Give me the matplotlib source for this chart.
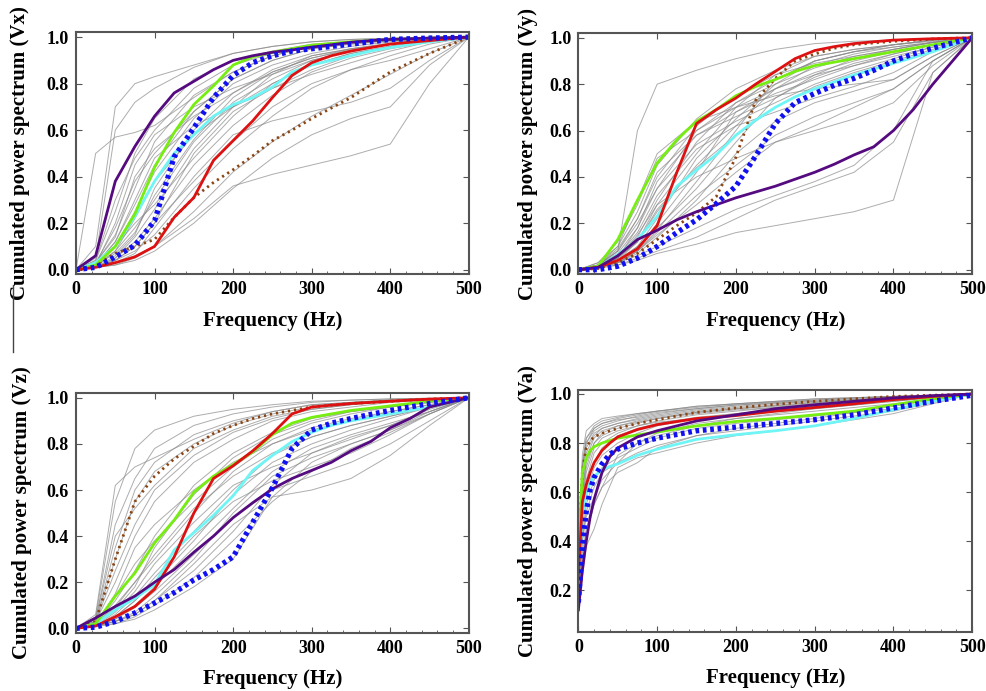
import numpy as np
import matplotlib
matplotlib.use('Agg')
import matplotlib.pyplot as plt
from matplotlib.lines import Line2D
from matplotlib.ticker import MultipleLocator, FormatStrFormatter

plt.rcParams['font.family'] = 'Liberation Serif'
plt.rcParams['font.weight'] = 'bold'

#frequency grids (Hz)
freq = [0, 25, 50, 75, 100, 125, 150, 175, 200, 225, 250, 275, 300, 325, 350, 375, 400, 425, 450, 475, 500]
freq_gray = [0, 25, 50, 75, 100, 150, 200, 250, 300, 350, 400, 450, 500]
freq_va = [0, 5, 10, 15, 20, 30, 40, 50, 75, 100, 150, 200, 250, 300, 350, 400, 450, 500]
freq_va_gray = [0, 5, 10, 20, 30, 50, 75, 100, 150, 200, 300, 400, 500]

#---- Vx ----
vx_purple = [0, 0.06, 0.38, 0.53, 0.66, 0.76, 0.81, 0.86, 0.90, 0.92, 0.935, 0.945, 0.957, 0.967, 0.978, 0.985, 0.99, 0.993, 0.996, 0.998, 1.0]
vx_green = [0, 0.02, 0.10, 0.24, 0.44, 0.59, 0.71, 0.79, 0.88, 0.915, 0.935, 0.95, 0.965, 0.973, 0.98, 0.985, 0.99, 0.993, 0.996, 0.998, 1.0]
vx_cyan = [0, 0.03, 0.10, 0.23, 0.38, 0.50, 0.58, 0.66, 0.71, 0.74, 0.785, 0.85, 0.88, 0.90, 0.92, 0.94, 0.955, 0.968, 0.98, 0.99, 1.0]
vx_red = [0, 0.01, 0.03, 0.055, 0.10, 0.225, 0.31, 0.47, 0.555, 0.64, 0.74, 0.835, 0.89, 0.92, 0.94, 0.955, 0.97, 0.978, 0.985, 0.993, 1.0]
vx_blue = [0, 0.01, 0.055, 0.105, 0.21, 0.485, 0.61, 0.74, 0.835, 0.89, 0.92, 0.94, 0.95, 0.96, 0.97, 0.98, 0.99, 0.993, 0.996, 0.998, 1.0]
vx_brown = [0, 0.02, 0.07, 0.10, 0.13, 0.225, 0.31, 0.375, 0.43, 0.49, 0.555, 0.60, 0.65, 0.695, 0.74, 0.795, 0.85, 0.89, 0.93, 0.965, 1.0]
vx_gray = [
    [0, 0.10, 0.70, 0.80, 0.83, 0.88, 0.93, 0.96, 0.98, 0.99, 0.995, 0.998, 1],
    [0, 0.50, 0.57, 0.59, 0.62, 0.74, 0.85, 0.92, 0.96, 0.98, 0.99, 0.995, 1],
    [0, 0.05, 0.60, 0.72, 0.78, 0.87, 0.93, 0.96, 0.98, 0.99, 0.995, 0.998, 1],
    [0, 0.04, 0.25, 0.50, 0.65, 0.82, 0.90, 0.94, 0.97, 0.98, 0.99, 0.995, 1],
    [0, 0.03, 0.15, 0.35, 0.55, 0.75, 0.85, 0.92, 0.96, 0.975, 0.985, 0.993, 1],
    [0, 0.02, 0.10, 0.25, 0.42, 0.65, 0.80, 0.88, 0.93, 0.96, 0.98, 0.99, 1],
    [0, 0.02, 0.08, 0.18, 0.30, 0.55, 0.72, 0.82, 0.90, 0.94, 0.97, 0.985, 1],
    [0, 0.01, 0.05, 0.12, 0.22, 0.45, 0.62, 0.75, 0.85, 0.91, 0.95, 0.98, 1],
    [0, 0.01, 0.04, 0.08, 0.15, 0.35, 0.52, 0.66, 0.78, 0.86, 0.92, 0.97, 1],
    [0, 0.01, 0.03, 0.06, 0.10, 0.25, 0.42, 0.55, 0.66, 0.75, 0.84, 0.93, 1],
    [0, 0.01, 0.02, 0.05, 0.10, 0.22, 0.36, 0.41, 0.45, 0.49, 0.54, 0.80, 1],
    [0, 0.01, 0.03, 0.07, 0.18, 0.40, 0.58, 0.64, 0.68, 0.72, 0.78, 0.90, 1],
    [0, 0.02, 0.12, 0.30, 0.48, 0.62, 0.70, 0.80, 0.88, 0.93, 0.96, 0.985, 1],
    [0, 0.01, 0.06, 0.15, 0.35, 0.60, 0.76, 0.86, 0.92, 0.95, 0.97, 0.99, 1],
    [0, 0.02, 0.20, 0.45, 0.58, 0.70, 0.78, 0.84, 0.90, 0.94, 0.97, 0.99, 1],
    [0, 0.01, 0.02, 0.04, 0.08, 0.20, 0.35, 0.48, 0.58, 0.65, 0.70, 0.88, 1],
    [0, 0.03, 0.18, 0.38, 0.50, 0.68, 0.82, 0.90, 0.95, 0.97, 0.985, 0.995, 1],
    [0, 0.01, 0.04, 0.10, 0.20, 0.50, 0.68, 0.78, 0.86, 0.92, 0.96, 0.985, 1],
    [0, 0.02, 0.12, 0.28, 0.45, 0.68, 0.82, 0.90, 0.95, 0.97, 0.985, 0.995, 1],
    [0, 0.03, 0.14, 0.40, 0.52, 0.66, 0.76, 0.85, 0.91, 0.95, 0.97, 0.99, 1],
    [0, 0.01, 0.08, 0.22, 0.38, 0.58, 0.70, 0.78, 0.84, 0.89, 0.94, 0.98, 1],
    [0, 0.02, 0.10, 0.20, 0.28, 0.48, 0.66, 0.80, 0.88, 0.93, 0.96, 0.985, 1],
    [0, 0.01, 0.05, 0.14, 0.26, 0.52, 0.70, 0.84, 0.92, 0.95, 0.975, 0.99, 1],
    [0, 0.04, 0.30, 0.48, 0.60, 0.78, 0.88, 0.93, 0.96, 0.98, 0.99, 0.995, 1],
    [0, 0.01, 0.04, 0.10, 0.20, 0.38, 0.55, 0.70, 0.80, 0.86, 0.90, 0.95, 1],
    [0, 0.02, 0.07, 0.16, 0.32, 0.56, 0.74, 0.85, 0.91, 0.945, 0.97, 0.99, 1],
]

#---- Vy ----
vy_purple = [0, 0.01, 0.06, 0.13, 0.17, 0.215, 0.25, 0.28, 0.31, 0.335, 0.36, 0.39, 0.42, 0.455, 0.495, 0.53, 0.60, 0.69, 0.80, 0.90, 1.0]
vy_green = [0, 0.015, 0.13, 0.30, 0.46, 0.56, 0.64, 0.69, 0.75, 0.79, 0.82, 0.855, 0.88, 0.895, 0.91, 0.925, 0.94, 0.955, 0.97, 0.985, 1.0]
vy_cyan = [0, 0.01, 0.065, 0.13, 0.23, 0.36, 0.43, 0.495, 0.58, 0.645, 0.70, 0.745, 0.78, 0.81, 0.84, 0.865, 0.89, 0.915, 0.94, 0.97, 1.0]
vy_red = [0, 0.01, 0.04, 0.09, 0.19, 0.42, 0.63, 0.69, 0.74, 0.80, 0.855, 0.91, 0.945, 0.962, 0.975, 0.983, 0.99, 0.993, 0.996, 0.998, 1.0]
vy_blue = [0, 0.0, 0.015, 0.05, 0.10, 0.16, 0.215, 0.285, 0.36, 0.49, 0.63, 0.72, 0.76, 0.795, 0.825, 0.86, 0.90, 0.93, 0.955, 0.978, 1.0]
vy_brown = [0, 0.005, 0.03, 0.07, 0.13, 0.19, 0.245, 0.315, 0.485, 0.73, 0.825, 0.90, 0.93, 0.955, 0.97, 0.978, 0.985, 0.99, 0.995, 0.998, 1.0]
vy_gray = [
    [0, 0.02, 0.08, 0.60, 0.80, 0.86, 0.91, 0.95, 0.975, 0.985, 0.99, 0.995, 1],
    [0, 0.02, 0.06, 0.14, 0.30, 0.55, 0.72, 0.80, 0.87, 0.92, 0.95, 0.98, 1],
    [0, 0.03, 0.10, 0.25, 0.45, 0.65, 0.78, 0.86, 0.92, 0.95, 0.97, 0.985, 1],
    [0, 0.02, 0.08, 0.20, 0.35, 0.60, 0.70, 0.78, 0.85, 0.90, 0.94, 0.97, 1],
    [0, 0.01, 0.05, 0.12, 0.25, 0.45, 0.62, 0.78, 0.88, 0.93, 0.96, 0.98, 1],
    [0, 0.01, 0.04, 0.10, 0.18, 0.35, 0.55, 0.74, 0.83, 0.89, 0.93, 0.97, 1],
    [0, 0.01, 0.03, 0.08, 0.15, 0.28, 0.42, 0.55, 0.60, 0.65, 0.72, 0.88, 1],
    [0, 0.01, 0.05, 0.15, 0.28, 0.40, 0.48, 0.55, 0.62, 0.70, 0.78, 0.90, 1],
    [0, 0.01, 0.02, 0.05, 0.08, 0.14, 0.22, 0.30, 0.36, 0.42, 0.55, 0.85, 1],
    [0, 0.005, 0.02, 0.04, 0.07, 0.11, 0.16, 0.19, 0.22, 0.25, 0.30, 0.85, 1],
    [0, 0.01, 0.03, 0.06, 0.10, 0.18, 0.26, 0.32, 0.38, 0.45, 0.60, 0.90, 1],
    [0, 0.02, 0.10, 0.30, 0.50, 0.64, 0.70, 0.75, 0.78, 0.80, 0.82, 0.92, 1],
    [0, 0.01, 0.05, 0.18, 0.38, 0.58, 0.68, 0.76, 0.82, 0.88, 0.93, 0.97, 1],
    [0, 0.01, 0.04, 0.10, 0.22, 0.48, 0.65, 0.80, 0.90, 0.94, 0.97, 0.99, 1],
    [0, 0.01, 0.03, 0.07, 0.14, 0.30, 0.50, 0.64, 0.72, 0.77, 0.82, 0.92, 1],
    [0, 0.02, 0.06, 0.16, 0.32, 0.52, 0.62, 0.68, 0.74, 0.79, 0.85, 0.94, 1],
    [0, 0.01, 0.03, 0.08, 0.17, 0.38, 0.60, 0.82, 0.90, 0.94, 0.96, 0.98, 1],
    [0, 0.02, 0.08, 0.22, 0.40, 0.62, 0.75, 0.84, 0.89, 0.92, 0.95, 0.98, 1],
    [0, 0.02, 0.09, 0.22, 0.42, 0.58, 0.66, 0.74, 0.84, 0.91, 0.95, 0.98, 1],
    [0, 0.01, 0.05, 0.12, 0.28, 0.50, 0.70, 0.84, 0.92, 0.95, 0.97, 0.99, 1],
    [0, 0.02, 0.07, 0.18, 0.35, 0.54, 0.64, 0.72, 0.80, 0.86, 0.91, 0.96, 1],
    [0, 0.01, 0.04, 0.09, 0.20, 0.42, 0.68, 0.78, 0.84, 0.88, 0.92, 0.96, 1],
    [0, 0.01, 0.03, 0.08, 0.16, 0.32, 0.45, 0.58, 0.66, 0.72, 0.78, 0.90, 1],
    [0, 0.03, 0.12, 0.28, 0.48, 0.60, 0.72, 0.82, 0.90, 0.94, 0.97, 0.99, 1],
    [0, 0.01, 0.04, 0.12, 0.26, 0.44, 0.58, 0.70, 0.79, 0.85, 0.90, 0.95, 1],
]

#---- Vz ----
vz_purple = [0, 0.045, 0.095, 0.14, 0.20, 0.255, 0.33, 0.40, 0.48, 0.545, 0.605, 0.65, 0.685, 0.72, 0.77, 0.81, 0.87, 0.91, 0.96, 0.98, 1.0]
vz_green = [0, 0.02, 0.14, 0.24, 0.37, 0.47, 0.59, 0.66, 0.71, 0.765, 0.84, 0.89, 0.915, 0.93, 0.945, 0.955, 0.965, 0.975, 0.985, 0.993, 1.0]
vz_cyan = [0, 0.02, 0.08, 0.13, 0.19, 0.34, 0.415, 0.49, 0.575, 0.685, 0.75, 0.81, 0.85, 0.88, 0.90, 0.915, 0.93, 0.945, 0.96, 0.98, 1.0]
vz_red = [0, 0.01, 0.05, 0.095, 0.17, 0.31, 0.50, 0.65, 0.705, 0.77, 0.845, 0.93, 0.96, 0.968, 0.975, 0.98, 0.985, 0.99, 0.994, 0.997, 1.0]
vz_blue = [0, 0.005, 0.03, 0.067, 0.11, 0.155, 0.21, 0.255, 0.31, 0.46, 0.61, 0.78, 0.86, 0.89, 0.91, 0.928, 0.945, 0.96, 0.975, 0.988, 1.0]
vz_brown = [0, 0.03, 0.30, 0.55, 0.66, 0.735, 0.79, 0.845, 0.88, 0.91, 0.93, 0.945, 0.96, 0.968, 0.975, 0.98, 0.985, 0.99, 0.994, 0.997, 1.0]
vz_gray = [
    [0, 0.05, 0.55, 0.78, 0.86, 0.92, 0.95, 0.97, 0.985, 0.99, 0.995, 0.998, 1],
    [0, 0.04, 0.45, 0.65, 0.78, 0.88, 0.93, 0.96, 0.98, 0.99, 0.995, 0.998, 1],
    [0, 0.03, 0.30, 0.55, 0.68, 0.80, 0.88, 0.93, 0.96, 0.98, 0.99, 0.995, 1],
    [0, 0.03, 0.20, 0.40, 0.55, 0.72, 0.82, 0.90, 0.94, 0.96, 0.98, 0.99, 1],
    [0, 0.02, 0.12, 0.25, 0.40, 0.62, 0.76, 0.85, 0.91, 0.94, 0.96, 0.98, 1],
    [0, 0.02, 0.10, 0.20, 0.30, 0.50, 0.68, 0.80, 0.87, 0.91, 0.94, 0.97, 1],
    [0, 0.01, 0.06, 0.14, 0.24, 0.42, 0.60, 0.75, 0.83, 0.88, 0.92, 0.96, 1],
    [0, 0.01, 0.04, 0.10, 0.18, 0.35, 0.52, 0.68, 0.78, 0.84, 0.89, 0.94, 1],
    [0, 0.01, 0.03, 0.06, 0.12, 0.25, 0.42, 0.62, 0.76, 0.83, 0.88, 0.94, 1],
    [0, 0.01, 0.02, 0.04, 0.08, 0.18, 0.30, 0.57, 0.72, 0.80, 0.86, 0.93, 1],
    [0, 0.01, 0.03, 0.06, 0.12, 0.28, 0.45, 0.57, 0.60, 0.65, 0.75, 0.88, 1],
    [0, 0.02, 0.15, 0.35, 0.45, 0.60, 0.72, 0.80, 0.86, 0.90, 0.94, 0.97, 1],
    [0, 0.01, 0.05, 0.12, 0.22, 0.40, 0.55, 0.64, 0.70, 0.76, 0.84, 0.93, 1],
    [0, 0.02, 0.08, 0.18, 0.35, 0.58, 0.74, 0.84, 0.90, 0.94, 0.96, 0.98, 1],
    [0, 0.01, 0.03, 0.07, 0.14, 0.30, 0.50, 0.66, 0.74, 0.80, 0.86, 0.94, 1],
    [0, 0.03, 0.25, 0.45, 0.60, 0.75, 0.85, 0.91, 0.95, 0.97, 0.985, 0.995, 1],
    [0, 0.01, 0.02, 0.05, 0.10, 0.22, 0.38, 0.55, 0.68, 0.78, 0.85, 0.93, 1],
    [0, 0.06, 0.62, 0.70, 0.74, 0.82, 0.89, 0.94, 0.97, 0.98, 0.99, 0.995, 1],
    [0, 0.02, 0.09, 0.20, 0.32, 0.52, 0.66, 0.76, 0.83, 0.88, 0.92, 0.96, 1],
    [0, 0.01, 0.05, 0.12, 0.20, 0.38, 0.58, 0.72, 0.80, 0.86, 0.91, 0.96, 1],
    [0, 0.03, 0.35, 0.60, 0.72, 0.84, 0.90, 0.94, 0.97, 0.98, 0.99, 0.995, 1],
    [0, 0.02, 0.14, 0.28, 0.38, 0.55, 0.70, 0.82, 0.89, 0.93, 0.96, 0.98, 1],
    [0, 0.01, 0.04, 0.09, 0.16, 0.32, 0.48, 0.60, 0.66, 0.72, 0.80, 0.90, 1],
    [0, 0.01, 0.07, 0.16, 0.28, 0.46, 0.62, 0.70, 0.76, 0.82, 0.88, 0.95, 1],
    [0, 0.04, 0.40, 0.52, 0.62, 0.78, 0.86, 0.92, 0.95, 0.97, 0.985, 0.995, 1],
]

#---- Va ----
va_purple = [0.12, 0.28, 0.40, 0.50, 0.57, 0.68, 0.745, 0.78, 0.825, 0.85, 0.89, 0.915, 0.94, 0.956, 0.97, 0.984, 0.993, 1.0]
va_green = [0.35, 0.68, 0.74, 0.77, 0.785, 0.80, 0.81, 0.82, 0.833, 0.845, 0.87, 0.888, 0.90, 0.915, 0.93, 0.956, 0.98, 1.0]
va_cyan = [0.25, 0.50, 0.59, 0.64, 0.665, 0.69, 0.705, 0.715, 0.75, 0.775, 0.815, 0.834, 0.85, 0.87, 0.90, 0.936, 0.97, 1.0]
va_red = [0.25, 0.56, 0.63, 0.68, 0.72, 0.77, 0.80, 0.825, 0.855, 0.875, 0.90, 0.912, 0.93, 0.945, 0.96, 0.977, 0.99, 1.0]
va_blue = [0.15, 0.38, 0.52, 0.61, 0.66, 0.715, 0.755, 0.775, 0.80, 0.82, 0.85, 0.865, 0.88, 0.895, 0.915, 0.943, 0.97, 0.995]
va_brown = [0.35, 0.68, 0.78, 0.81, 0.825, 0.84, 0.85, 0.86, 0.88, 0.895, 0.925, 0.943, 0.958, 0.97, 0.98, 0.99, 0.995, 1.0]
va_gray = [
    [0.30, 0.75, 0.85, 0.88, 0.90, 0.91, 0.92, 0.93, 0.95, 0.96, 0.98, 0.99, 1],
    [0.35, 0.70, 0.80, 0.85, 0.87, 0.89, 0.91, 0.925, 0.94, 0.955, 0.975, 0.99, 1],
    [0.25, 0.60, 0.72, 0.80, 0.83, 0.86, 0.88, 0.90, 0.925, 0.94, 0.965, 0.985, 1],
    [0.20, 0.45, 0.60, 0.70, 0.75, 0.80, 0.84, 0.87, 0.90, 0.92, 0.95, 0.98, 1],
    [0.15, 0.35, 0.45, 0.55, 0.62, 0.75, 0.80, 0.83, 0.87, 0.90, 0.94, 0.97, 1],
    [0.10, 0.25, 0.38, 0.45, 0.55, 0.70, 0.74, 0.76, 0.80, 0.83, 0.87, 0.92, 1],
    [0.12, 0.30, 0.42, 0.55, 0.62, 0.68, 0.72, 0.78, 0.83, 0.86, 0.90, 0.95, 1],
    [0.30, 0.65, 0.78, 0.84, 0.86, 0.88, 0.90, 0.915, 0.935, 0.95, 0.97, 0.985, 1],
    [0.20, 0.50, 0.65, 0.76, 0.80, 0.84, 0.87, 0.89, 0.915, 0.93, 0.96, 0.98, 1],
    [0.25, 0.55, 0.68, 0.78, 0.82, 0.85, 0.87, 0.885, 0.90, 0.915, 0.94, 0.97, 1],
    [0.18, 0.42, 0.55, 0.65, 0.70, 0.74, 0.78, 0.82, 0.86, 0.88, 0.91, 0.94, 1],
    [0.35, 0.72, 0.82, 0.86, 0.88, 0.90, 0.915, 0.93, 0.945, 0.96, 0.975, 0.99, 1],
    [0.22, 0.55, 0.70, 0.80, 0.84, 0.87, 0.89, 0.905, 0.925, 0.94, 0.96, 0.98, 1],
    [0.15, 0.40, 0.52, 0.62, 0.68, 0.72, 0.76, 0.79, 0.83, 0.85, 0.89, 0.93, 1],
    [0.28, 0.68, 0.80, 0.86, 0.88, 0.895, 0.905, 0.92, 0.94, 0.955, 0.97, 0.985, 1],
    [0.28, 0.62, 0.76, 0.83, 0.86, 0.88, 0.895, 0.91, 0.93, 0.945, 0.965, 0.985, 1],
    [0.32, 0.70, 0.82, 0.87, 0.89, 0.905, 0.92, 0.93, 0.95, 0.96, 0.98, 0.99, 1],
    [0.18, 0.40, 0.50, 0.58, 0.65, 0.72, 0.80, 0.84, 0.88, 0.90, 0.93, 0.96, 1],
    [0.22, 0.50, 0.62, 0.72, 0.78, 0.83, 0.86, 0.88, 0.905, 0.92, 0.95, 0.975, 1],
    [0.26, 0.58, 0.74, 0.82, 0.85, 0.87, 0.885, 0.90, 0.92, 0.935, 0.955, 0.975, 1],
]

panels = [
    ('Vx', freq, freq_gray, vx_gray, [vx_brown, vx_cyan, vx_green, vx_red, vx_purple, vx_blue]),
    ('Vy', freq, freq_gray, vy_gray, [vy_brown, vy_cyan, vy_green, vy_red, vy_purple, vy_blue]),
    ('Vz', freq, freq_gray, vz_gray, [vz_brown, vz_cyan, vz_green, vz_red, vz_purple, vz_blue]),
    ('Va', freq_va, freq_va_gray, va_gray, [va_brown, va_cyan, va_green, va_red, va_purple, va_blue]),
]

#style of the colored curves: brown, cyan, green, red, purple, blue
styles = [
    dict(color='#8B4513', lw=2.0, ls=(0, (0.8, 1.4))),
    dict(color='#6FF5F5', lw=2.0, ls='-'),
    dict(color='#77EE11', lw=2.0, ls='-'),
    dict(color='#DD1111', lw=2.0, ls='-'),
    dict(color='#550A80', lw=2.0, ls='-'),
    dict(color='#1010F0', lw=3.8, ls=(0, (0.7, 0.7))),
]

positions = [
    [0.077, 0.603, 0.398, 0.350],
    [0.586, 0.603, 0.399, 0.349],
    [0.077, 0.084, 0.398, 0.347],
    [0.586, 0.0855, 0.399, 0.350],
]
ylabel_pads = [12, 8, 11, 8]

fig = plt.figure(figsize=(9.87, 6.91), dpi=100)

for (name, f, fg, grays, curves), pos, ypad in zip(panels, positions, ylabel_pads):
    ax = fig.add_axes(pos)
    for g in grays:
        ax.plot(fg, g, color='#8a8a8a', lw=0.7, alpha=0.7)
    for c, st in zip(curves, styles):
        ax.plot(f, c, color=st['color'], lw=st['lw'], linestyle=st['ls'])
    ax.set_xlim(0, 500)
    if name == 'Va':
        ax.set_ylim(0.03, 1.016)
        ax.set_yticks([0.2, 0.4, 0.6, 0.8, 1.0])
    else:
        ax.set_ylim(-0.02, 1.02)
        ax.set_yticks([0.0, 0.2, 0.4, 0.6, 0.8, 1.0])
    ax.set_xticks([0, 100, 200, 300, 400, 500])
    ax.xaxis.set_minor_locator(MultipleLocator(20))
    ax.tick_params(which='major', direction='in', top=True, right=True, length=4,
                   width=0.8, color='#555555', labelsize=13, pad=5)
    ax.tick_params(which='minor', direction='in', top=False, length=2.5, width=0.6, color='#555555')
    ax.yaxis.set_major_formatter(FormatStrFormatter('%.1f'))
    for lab in ax.get_xticklabels() + ax.get_yticklabels():
        lab.set_fontweight('bold')
    for sp in ax.spines.values():
        sp.set_color('#555555')
        sp.set_linewidth(1.5)
    ax.set_xlabel('Frequency (Hz)', fontsize=15, fontweight='bold', labelpad=9)
    ax.set_ylabel('Cumulated power spectrum (%s)' % name, fontsize=15, fontweight='bold', labelpad=ypad)

#thin stray rule at the left edge, as in the original layout
fig.add_artist(Line2D([13/987, 13/987], [1-285/691, 1-352/691], color='#444444', lw=1))

plt.savefig('out.png', dpi=100)
